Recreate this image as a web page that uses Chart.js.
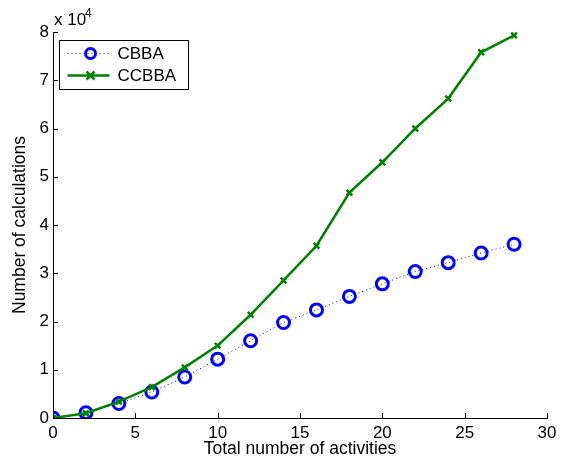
<!DOCTYPE html>
<html>
<head>
<meta charset="utf-8">
<script src="https://cdn.jsdelivr.net/npm/chart.js@4/dist/chart.umd.min.js"></script>
<style>
  html, body { margin: 0; padding: 0; background: #fff; }
  #wrap { width: 565px; height: 466px; }
</style>
</head>
<body>
<div id="wrap"><canvas id="chart" width="565" height="466"></canvas></div>
<script>
const activities = [0, 2, 4, 6, 8, 10, 12, 14, 16, 18, 20, 22, 24, 26, 28];
const cbba = [0, 1100, 3000, 5400, 8500, 12200, 16000, 19800, 22400, 25200, 27800, 30350, 32200, 34200, 36000];
const ccbba = [0, 1000, 3400, 6400, 10500, 15000, 21400, 28500, 35700, 46700, 53000, 60000, 66200, 75800, 79300];
const xTicks = [0, 5, 10, 15, 20, 25, 30];
const yTicks = [0, 1, 2, 3, 4, 5, 6, 7, 8];

const FONT = "'Liberation Sans', Arial, sans-serif";
const BLUE = "#0000ff";
const GREEN = "#008000";

// inward ticks, the "x 10^4" exponent and the legend box, like MATLAB does
const decor = {
    id: "decor",
    afterDraw(chart) {
        const c = chart.ctx;
        const xs = chart.scales.x, ys = chart.scales.y;
        const a = chart.chartArea;
        c.save();
        c.strokeStyle = "#000";
        c.lineWidth = 1;
        c.beginPath();
        xTicks.forEach(v => {
            const px = Math.round(xs.getPixelForValue(v)) + 0.5;
            c.moveTo(px, a.bottom);
            c.lineTo(px, a.bottom - 5);
        });
        yTicks.forEach(v => {
            const py = Math.round(ys.getPixelForValue(v * 10000)) + 0.5;
            c.moveTo(a.left, py);
            c.lineTo(a.left + 5, py);
        });
        c.stroke();

        c.fillStyle = "#000";
        c.font = "17px " + FONT;
        c.textBaseline = "alphabetic";
        c.fillText("x 10", a.left + 1, a.top - 7);
        c.font = "12px " + FONT;
        c.fillText("4", a.left + 32, a.top - 15);

        // legend
        const lx = 59.5, ly = 40.5, lw = 129, lh = 49;
        c.fillStyle = "#fff";
        c.fillRect(lx, ly, lw, lh);
        c.strokeStyle = "#000";
        c.strokeRect(lx, ly, lw, lh);

        const y1 = ly + 13, y2 = ly + 35;
        c.strokeStyle = BLUE;
        c.lineWidth = 1;
        c.setLineDash([1, 3]);
        c.beginPath();
        c.moveTo(lx + 8, y1);
        c.lineTo(lx + 50, y1);
        c.stroke();
        c.setLineDash([]);
        c.lineWidth = 3;
        c.beginPath();
        c.arc(lx + 31, y1, 5, 0, Math.PI * 2);
        c.stroke();

        c.strokeStyle = GREEN;
        c.lineWidth = 2.5;
        c.beginPath();
        c.moveTo(lx + 8, y2);
        c.lineTo(lx + 50, y2);
        c.stroke();
        c.beginPath();
        c.moveTo(lx + 27, y2 - 4); c.lineTo(lx + 35, y2 + 4);
        c.moveTo(lx + 27, y2 + 4); c.lineTo(lx + 35, y2 - 4);
        c.stroke();

        c.fillStyle = "#000";
        c.font = "17px " + FONT;
        c.textBaseline = "middle";
        c.fillText("CBBA", lx + 58, y1 + 1);
        c.fillText("CCBBA", lx + 58, y2 + 1);
        c.restore();
    }
};

new Chart(document.getElementById("chart"), {
    type: "line",
    data: {
        datasets: [
            {
                label: "CBBA",
                data: activities.map((x, i) => ({ x: x, y: cbba[i] })),
                borderColor: BLUE,
                borderWidth: 1,
                borderDash: [1, 3],
                pointStyle: "circle",
                pointRadius: 6,
                pointBorderWidth: 3,
                pointBorderColor: BLUE,
                pointBackgroundColor: "rgba(0,0,0,0)",
                order: 1
            },
            {
                label: "CCBBA",
                data: activities.map((x, i) => ({ x: x, y: ccbba[i] })),
                borderColor: GREEN,
                borderWidth: 2.5,
                pointStyle: "crossRot",
                pointRadius: 4,
                pointBorderWidth: 2.5,
                pointBorderColor: GREEN,
                order: 0
            }
        ]
    },
    options: {
        responsive: false,
        animation: false,
        layout: { padding: { top: 32, right: 18, left: 0, bottom: 0 } },
        plugins: { legend: { display: false }, tooltip: { enabled: false } },
        scales: {
            x: {
                type: "linear",
                min: 0, max: 30,
                afterBuildTicks: s => { s.ticks = xTicks.map(v => ({ value: v })); },
                afterFit: s => { s.height = 48; },
                grid: { display: false, drawTicks: false },
                border: { display: true, color: "#000", width: 1 },
                ticks: { color: "#000", font: { family: FONT, size: 17 }, padding: 5, maxRotation: 0 },
                title: { display: true, text: "Total number of activities", color: "#000",
                         font: { family: FONT, size: 17.5 }, padding: { top: 0, bottom: 6 } }
            },
            y: {
                type: "linear",
                min: 0, max: 80000,
                afterBuildTicks: s => { s.ticks = yTicks.map(v => ({ value: v * 10000 })); },
                afterFit: s => { s.width = 53; },
                grid: { display: false, drawTicks: false },
                border: { display: true, color: "#000", width: 1 },
                ticks: { color: "#000", font: { family: FONT, size: 17 }, padding: 4,
                         callback: v => String(v / 10000) },
                title: { display: true, text: "Number of calculations", color: "#000",
                         font: { family: FONT, size: 17.5 }, padding: { top: 10, bottom: 0 } }
            }
        }
    },
    plugins: [decor]
});
</script>
</body>
</html>
